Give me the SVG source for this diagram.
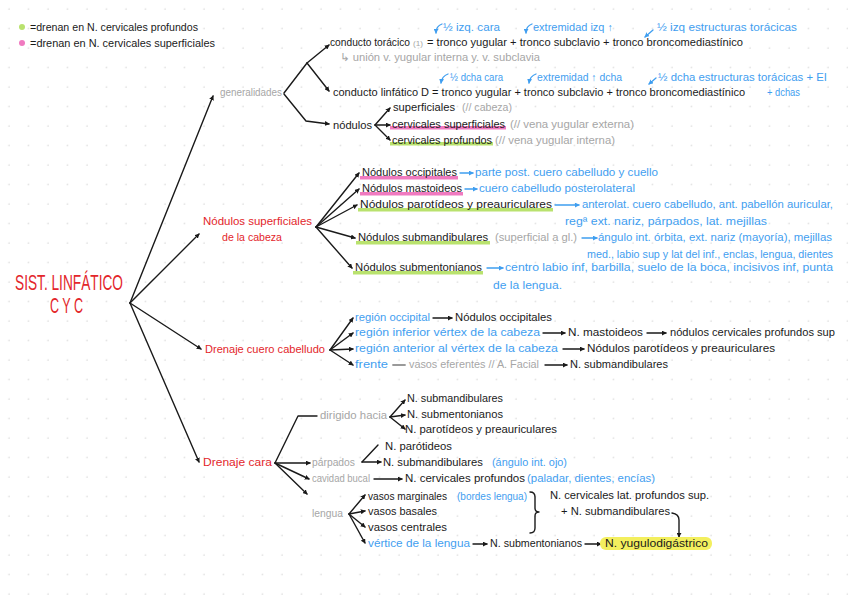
<svg xmlns="http://www.w3.org/2000/svg" width="848" height="599" viewBox="0 0 848 599">
<defs>
<pattern id="dots" x="0" y="0" width="19.5" height="19.5" patternUnits="userSpaceOnUse">
<circle cx="9" cy="9" r="0.8" fill="#d4d4d4"/>
</pattern>
<marker id="ah" viewBox="0 0 6 6" refX="5" refY="3" markerWidth="5" markerHeight="5" markerUnits="userSpaceOnUse" orient="auto">
<path d="M0,0 L6,3 L0,6 z" fill="#1a1a1a"/>
</marker>
<marker id="ahb" viewBox="0 0 6 6" refX="5" refY="3" markerWidth="5" markerHeight="5" markerUnits="userSpaceOnUse" orient="auto">
<path d="M0,0 L6,3 L0,6 z" fill="#3f9ef0"/>
</marker>
<style>
text{font-family:"Liberation Sans",Arial,sans-serif;font-size:10.5px;fill:#1a1a1a}
.b{fill:#3f9ef0}
.g{fill:#a6a6a6}
.r{fill:#e3262b}
.sm{font-size:8px}
.ttl{font-size:22px;fill:#e3262b}
.ln{stroke:#1a1a1a;stroke-width:1.4;fill:none;stroke-linecap:round;stroke-linejoin:round}
.la{stroke:#1a1a1a;stroke-width:1.4;fill:none;stroke-linecap:round;marker-end:url(#ah)}
.lb{stroke:#3f9ef0;stroke-width:1.3;fill:none;stroke-linecap:round;marker-end:url(#ahb)}
.pk{fill:#f07ac0}
.gr{fill:#b9e26e}
.yl{fill:#f3ef5e}
</style>
</defs>
<rect width="848" height="599" fill="#ffffff"/>
<rect width="848" height="599" fill="url(#dots)"/>

<g id="legend">
<circle cx="22" cy="27" r="3" class="gr"/>
<circle cx="22" cy="43" r="3" class="pk"/>
<text x="30" y="31" textLength="168" lengthAdjust="spacingAndGlyphs">=drenan en N. cervicales profundos</text>
<text x="30" y="47" textLength="185" lengthAdjust="spacingAndGlyphs">=drenan en N. cervicales superficiales</text>
</g>

<g id="connectors">
<line class="la" x1="130" y1="303" x2="213" y2="96"/>
<line class="la" x1="130" y1="303" x2="199" y2="234"/>
<line class="la" x1="130" y1="303" x2="201" y2="349"/>
<line class="la" x1="130" y1="303" x2="199" y2="462"/>
<polyline class="ln" points="284,93 307,63"/>
<line class="la" x1="307" y1="63" x2="329" y2="45"/>
<line class="la" x1="307" y1="63" x2="329" y2="91"/>
<polyline class="la" points="284,94 306,121 329,124"/>
<line class="la" x1="375" y1="125" x2="390" y2="108"/>
<line class="la" x1="375" y1="125" x2="390" y2="125"/>
<line class="la" x1="375" y1="125" x2="390" y2="140"/>
<path class="lb" d="M442,24 Q436,26 436,33"/>
<path class="lb" d="M532,24 Q526,26 526,33"/>
<path class="lb" d="M653,30 L645,37"/>
<path class="lb" d="M448,74 Q442,76 441,83"/>
<path class="lb" d="M536,74 Q530,76 529,83"/>
<path class="lb" d="M656,78 L649,84"/>
<line class="la" x1="316" y1="227" x2="359" y2="173"/>
<line class="la" x1="316" y1="227" x2="359" y2="189"/>
<line class="la" x1="316" y1="227" x2="357" y2="205"/>
<line class="la" x1="316" y1="227" x2="355" y2="238"/>
<line class="la" x1="316" y1="227" x2="352" y2="268"/>
<line class="lb" x1="460" y1="173" x2="473" y2="173"/>
<line class="lb" x1="465" y1="189" x2="477" y2="189"/>
<line class="lb" x1="555" y1="205" x2="579" y2="205"/>
<line class="lb" x1="582" y1="238" x2="597" y2="238"/>
<line class="lb" x1="487" y1="268" x2="503" y2="268"/>
<line class="la" x1="330" y1="350" x2="353" y2="318"/>
<line class="la" x1="330" y1="350" x2="353" y2="333"/>
<line class="la" x1="330" y1="350" x2="353" y2="349"/>
<line class="la" x1="330" y1="350" x2="353" y2="365"/>
<line class="la" x1="433" y1="318" x2="452" y2="318"/>
<line class="la" x1="543" y1="333" x2="565" y2="333"/>
<line class="la" x1="647" y1="333" x2="666" y2="333"/>
<line class="la" x1="563" y1="349" x2="584" y2="349"/>
<line x1="393" y1="365" x2="405" y2="365" stroke="#9a9a9a" stroke-width="1.8" stroke-linecap="round"/>
<line class="la" x1="545" y1="365" x2="567" y2="365"/>
<polyline class="ln" points="275,463 298,416 317,416"/>
<line class="la" x1="390" y1="417" x2="405" y2="400"/>
<line class="la" x1="390" y1="417" x2="405" y2="415"/>
<line class="la" x1="390" y1="417" x2="405" y2="429"/>
<line class="la" x1="275" y1="463" x2="310" y2="463"/>
<line class="ln" x1="362" y1="462" x2="378" y2="445"/>
<line class="la" x1="362" y1="462" x2="381" y2="462"/>
<line class="la" x1="275" y1="463" x2="309" y2="479"/>
<line class="la" x1="374" y1="479" x2="402" y2="479"/>
<line class="la" x1="275" y1="463" x2="307" y2="494"/>
<line class="la" x1="349" y1="514" x2="365" y2="495"/>
<line class="la" x1="349" y1="514" x2="365" y2="511"/>
<line class="la" x1="349" y1="514" x2="365" y2="527"/>
<line class="la" x1="349" y1="514" x2="365" y2="543"/>
<line class="la" x1="473" y1="544" x2="487" y2="544"/>
<line class="la" x1="585" y1="544" x2="601" y2="544"/>
<path class="ln" d="M530,492 Q535,492 535,497 L535,508 Q535,512 539,512 Q535,512 535,516 L535,528 Q535,533 530,533"/>
<path class="la" d="M672,513 Q679,514 679,520 L679,537"/>
</g>

<g id="title">
<text class="ttl" x="15" y="290" textLength="108" lengthAdjust="spacingAndGlyphs">SIST. LINFÁTICO</text>
<text class="ttl" x="50" y="313" textLength="33" lengthAdjust="spacingAndGlyphs">C Y C</text>
</g>

<g id="generalidades">
<text class="g" x="220" y="96" textLength="62" lengthAdjust="spacingAndGlyphs">generalidades</text>
</g>

<g id="conducto-toracico">
<text x="330" y="46" textLength="80" lengthAdjust="spacingAndGlyphs">conducto torácico</text>
<text class="g sm" x="413" y="46" textLength="10" lengthAdjust="spacingAndGlyphs">(1)</text>
<text x="427" y="46" textLength="316" lengthAdjust="spacingAndGlyphs">= tronco yugular + tronco subclavio + tronco broncomediastínico</text>
<text class="b" x="443" y="31" textLength="57" lengthAdjust="spacingAndGlyphs">½ izq. cara</text>
<text class="b" x="533" y="31" textLength="80" lengthAdjust="spacingAndGlyphs">extremidad izq ↑</text>
<text class="b" x="657" y="31" textLength="140" lengthAdjust="spacingAndGlyphs">½ izq estructuras torácicas</text>
<text class="g" x="340" y="61" textLength="200" lengthAdjust="spacingAndGlyphs">↳ unión v. yugular interna y. v. subclavia</text>
</g>

<g id="conducto-linfatico">
<text x="333" y="96" textLength="412" lengthAdjust="spacingAndGlyphs">conducto linfático D = tronco yugular + tronco subclavio + tronco broncomediastínico</text>
<text class="b" x="450" y="81" textLength="53" lengthAdjust="spacingAndGlyphs">½ dcha cara</text>
<text class="b" x="537" y="81" textLength="85" lengthAdjust="spacingAndGlyphs">extremidad ↑ dcha</text>
<text class="b" x="658" y="81" textLength="169" lengthAdjust="spacingAndGlyphs">½ dcha estructuras torácicas + EI</text>
<text class="b" x="767" y="96" textLength="33" lengthAdjust="spacingAndGlyphs">+ dchas</text>
</g>

<g id="nodulos">
<rect x="390" y="126" width="116" height="3.5" class="pk"/>
<rect x="390" y="142" width="103" height="3.5" class="gr"/>
<text x="333" y="129" textLength="39" lengthAdjust="spacingAndGlyphs">nódulos</text>
<text x="393" y="111" textLength="62" lengthAdjust="spacingAndGlyphs">superficiales</text>
<text class="g" x="462" y="111" textLength="50" lengthAdjust="spacingAndGlyphs">(// cabeza)</text>
<text x="392" y="128" textLength="113" lengthAdjust="spacingAndGlyphs">cervicales superficiales</text>
<text class="g" x="510" y="128" textLength="124" lengthAdjust="spacingAndGlyphs">(// vena yugular externa)</text>
<text x="392" y="144" textLength="100" lengthAdjust="spacingAndGlyphs">cervicales profundos</text>
<text class="g" x="495" y="144" textLength="120" lengthAdjust="spacingAndGlyphs">(// vena yugular interna)</text>
</g>

<g id="nodulos-superficiales">
<text class="r" x="203" y="225" textLength="109" lengthAdjust="spacingAndGlyphs">Nódulos superficiales</text>
<text class="r" x="222" y="241" textLength="60" lengthAdjust="spacingAndGlyphs">de la cabeza</text>
</g>

<g id="occipitales">
<rect x="360" y="176" width="98" height="3.5" class="pk"/>
<text x="362" y="176" textLength="95" lengthAdjust="spacingAndGlyphs">Nódulos occipitales</text>
<text class="b" x="475" y="176" textLength="183" lengthAdjust="spacingAndGlyphs">parte post. cuero cabelludo y cuello</text>
</g>
<g id="mastoideos">
<rect x="360" y="192" width="103" height="3.5" class="pk"/>
<text x="362" y="192" textLength="100" lengthAdjust="spacingAndGlyphs">Nódulos mastoideos</text>
<text class="b" x="479" y="192" textLength="156" lengthAdjust="spacingAndGlyphs">cuero cabelludo posterolateral</text>
</g>
<g id="parotideos">
<rect x="358" y="208" width="195" height="3.5" class="gr"/>
<text x="360" y="208" textLength="192" lengthAdjust="spacingAndGlyphs">Nódulos parotídeos y preauriculares</text>
<text class="b" x="582" y="208" textLength="251" lengthAdjust="spacingAndGlyphs">anterolat. cuero cabelludo, ant. pabellón auricular,</text>
<text class="b" x="565" y="225" textLength="202" lengthAdjust="spacingAndGlyphs">regª ext. nariz, párpados, lat. mejillas</text>
</g>
<g id="submandibulares">
<rect x="356" y="241" width="134" height="3.5" class="gr"/>
<text x="358" y="241" textLength="130" lengthAdjust="spacingAndGlyphs">Nódulos submandibulares</text>
<text class="g" x="495" y="241" textLength="82" lengthAdjust="spacingAndGlyphs">(superficial a gl.)</text>
<text class="b" x="598" y="241" textLength="234" lengthAdjust="spacingAndGlyphs">ángulo int. órbita, ext. nariz (mayoría), mejillas</text>
<text class="b" x="587" y="258" textLength="246" lengthAdjust="spacingAndGlyphs">med., labio sup y lat del inf., enclas, lengua, dientes</text>
</g>
<g id="submentonianos">
<rect x="353" y="271" width="130" height="3.5" class="gr"/>
<text x="355" y="271" textLength="127" lengthAdjust="spacingAndGlyphs">Nódulos submentonianos</text>
<text class="b" x="505" y="271" textLength="328" lengthAdjust="spacingAndGlyphs">centro labio inf, barbilla, suelo de la boca, incisivos inf, punta</text>
<text class="b" x="493" y="289" textLength="69" lengthAdjust="spacingAndGlyphs">de la lengua.</text>
</g>

<g id="drenaje-cuero-cabelludo">
<text class="r" x="205" y="353" textLength="120" lengthAdjust="spacingAndGlyphs">Drenaje cuero cabelludo</text>
<text class="b" x="355" y="321" textLength="75" lengthAdjust="spacingAndGlyphs">región occipital</text>
<text x="455" y="321" textLength="97" lengthAdjust="spacingAndGlyphs">Nódulos occipitales</text>
<text class="b" x="355" y="336" textLength="185" lengthAdjust="spacingAndGlyphs">región inferior vértex de la cabeza</text>
<text x="568" y="336" textLength="75" lengthAdjust="spacingAndGlyphs">N. mastoideos</text>
<text x="670" y="336" textLength="165" lengthAdjust="spacingAndGlyphs">nódulos cervicales profundos sup</text>
<text class="b" x="355" y="352" textLength="203" lengthAdjust="spacingAndGlyphs">región anterior al vértex de la cabeza</text>
<text x="587" y="352" textLength="188" lengthAdjust="spacingAndGlyphs">Nódulos parotídeos y preauriculares</text>
<text class="b" x="355" y="368" textLength="33" lengthAdjust="spacingAndGlyphs">frente</text>
<text class="g" x="409" y="368" textLength="130" lengthAdjust="spacingAndGlyphs">vasos eferentes // A. Facial</text>
<text x="570" y="368" textLength="98" lengthAdjust="spacingAndGlyphs">N. submandibulares</text>
</g>

<g id="drenaje-cara">
<text class="r" x="203" y="466" textLength="69" lengthAdjust="spacingAndGlyphs">Drenaje cara</text>
</g>
<g id="dirigido-hacia">
<text class="g" x="320" y="419" textLength="67" lengthAdjust="spacingAndGlyphs">dirigido hacia</text>
<text x="407" y="402" textLength="96" lengthAdjust="spacingAndGlyphs">N. submandibulares</text>
<text x="407" y="418" textLength="96" lengthAdjust="spacingAndGlyphs">N. submentonianos</text>
<text x="405" y="433" textLength="152" lengthAdjust="spacingAndGlyphs">N. parotídeos y preauriculares</text>
</g>
<g id="parpados">
<text class="g" x="312" y="466" textLength="43" lengthAdjust="spacingAndGlyphs">párpados</text>
<text x="385" y="450" textLength="67" lengthAdjust="spacingAndGlyphs">N. parótideos</text>
<text x="383" y="466" textLength="100" lengthAdjust="spacingAndGlyphs">N. submandibulares</text>
<text class="b" x="492" y="466" textLength="75" lengthAdjust="spacingAndGlyphs">(ángulo int. ojo)</text>
</g>
<g id="cavidad-bucal">
<text class="g" x="312" y="482" textLength="58" lengthAdjust="spacingAndGlyphs">cavidad bucal</text>
<text x="405" y="482" textLength="120" lengthAdjust="spacingAndGlyphs">N. cervicales profundos</text>
<text class="b" x="527" y="482" textLength="128" lengthAdjust="spacingAndGlyphs">(paladar, dientes, encías)</text>
</g>
<g id="lengua">
<text class="g" x="312" y="517" textLength="31" lengthAdjust="spacingAndGlyphs">lengua</text>
<text x="368" y="500" textLength="79" lengthAdjust="spacingAndGlyphs">vasos marginales</text>
<text class="b" x="457" y="500" textLength="70" lengthAdjust="spacingAndGlyphs">(bordes lengua)</text>
<text x="368" y="515" textLength="69" lengthAdjust="spacingAndGlyphs">vasos basales</text>
<text x="368" y="531" textLength="79" lengthAdjust="spacingAndGlyphs">vasos centrales</text>
<text class="b" x="368" y="547" textLength="102" lengthAdjust="spacingAndGlyphs">vértice de la lengua</text>
<text x="490" y="547" textLength="92" lengthAdjust="spacingAndGlyphs">N. submentonianos</text>
<text x="550" y="499" textLength="159" lengthAdjust="spacingAndGlyphs">N. cervicales lat. profundos sup.</text>
<text x="561" y="515" textLength="109" lengthAdjust="spacingAndGlyphs">+ N. submandibulares</text>
</g>
<g id="yugulodigastrico">
<rect x="600" y="537" width="112" height="13" rx="6" class="yl"/>
<text x="605" y="547" textLength="103" lengthAdjust="spacingAndGlyphs">N. yugulodigástrico</text>
</g>
</svg>
